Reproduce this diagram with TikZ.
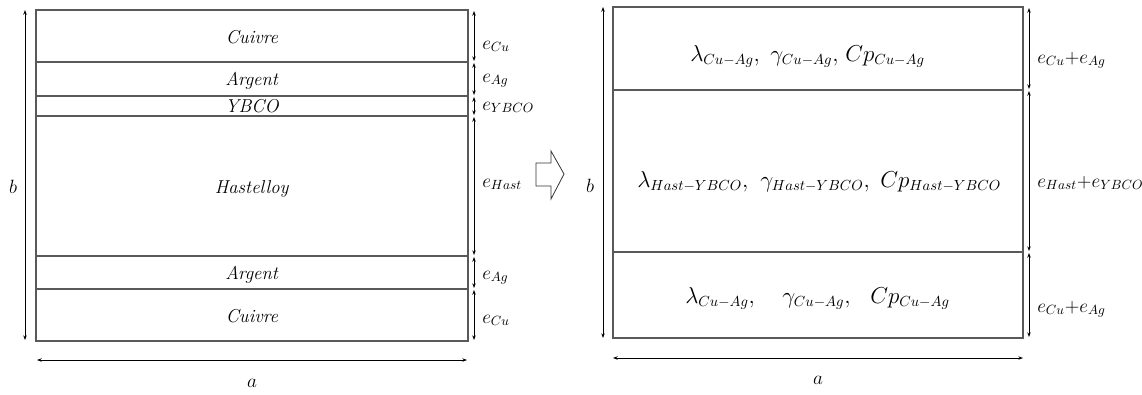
\documentclass[tikz,border=0pt]{standalone}
\usetikzlibrary{arrows.meta}
\begin{document}
\begin{tikzpicture}[x=0.75pt,y=-0.75pt,
    layer/.style={draw=black!65,line width=1.3pt},
    dim/.style={{Stealth[length=3.5pt,width=2.6pt]}-{Stealth[length=3.5pt,width=2.6pt]},line width=0.6pt},
    txt/.style={anchor=base,inner sep=0pt,font=\fontsize{14}{16}\selectfont},
    elbl/.style={anchor=base west,inner sep=0pt,font=\fontsize{14}{16}\selectfont},
    prop/.style={anchor=base west,inner sep=0pt,font=\fontsize{16}{19}\selectfont}]
    \useasboundingbox (0,0) rectangle (1142,394);

    % left: real stack of the tape
    \draw[layer] (36,10) rectangle (468,341);
    \draw[layer] (36,62) -- (468,62);
    \draw[layer] (36,96) -- (468,96);
    \draw[layer] (36,116) -- (468,116);
    \draw[layer] (36,256) -- (468,256);
    \draw[layer] (36,289) -- (468,289);

    \node[txt] (cu1) at (252,43) {\textit{Cuivre}};
    \node[txt] (ag1) at (252,85) {\textit{Argent}};
    \node[txt] (ybco) at (252,112) {\textit{YBCO}};
    \node[txt] (hast) at (252,193) {\textit{Hastelloy}};
    \node[txt] (ag2) at (252,279) {\textit{Argent}};
    \node[txt] (cu2) at (252,322) {\textit{Cuivre}};

    \draw[dim] (474,11) -- (474,61);
    \draw[dim] (474,63) -- (474,95);
    \draw[dim] (474,97) -- (474,115);
    \draw[dim] (474,117) -- (474,255);
    \draw[dim] (474,257) -- (474,288);
    \draw[dim] (474,290) -- (474,340);
    \node[elbl] (ecu1) at (482,49) {$e_{Cu}$};
    \node[elbl] (eag1) at (482,82) {$e_{Ag}$};
    \node[elbl] (eybco) at (482,110) {$e_{YBCO}$};
    \node[elbl] (ehast) at (482,187) {$e_{Hast}$};
    \node[elbl] (eag2) at (482,279) {$e_{Ag}$};
    \node[elbl] (ecu2) at (482,323) {$e_{Cu}$};

    \draw[dim] (25,10) -- (25,340);
    \node[txt] (bl) at (13,193) {$b$};
    \draw[dim] (37,360) -- (467,360);
    \node[txt] (al) at (252,387) {$a$};

    % equivalent model
    \draw[black!80,line width=0.6pt] (536,163) -- (551,163) -- (551,151) -- (564,174)
        -- (551,199) -- (551,186) -- (536,186) -- cycle;

    \draw[layer] (613,7) rectangle (1023,338);
    \draw[layer] (613,90) -- (1023,90);
    \draw[layer] (613,252) -- (1023,252);

    \node[prop] (lam1) at (690,61) {$\lambda_{Cu-Ag},$};
    \node[prop] (gam1) at (770,61) {$\gamma_{Cu-Ag},$};
    \node[prop] (cp1) at (845,61) {$Cp_{Cu-Ag}$};
    \node[prop] (lam2) at (637,187) {$\lambda_{Hast-YBCO},$};
    \node[prop] (gam2) at (760,187) {$\gamma_{Hast-YBCO},$};
    \node[prop] (cp2) at (880,187) {$Cp_{Hast-YBCO}$};
    \node[prop] (lam3) at (685,303) {$\lambda_{Cu-Ag},$};
    \node[prop] (gam3) at (782,303) {$\gamma_{Cu-Ag},$};
    \node[prop] (cp3) at (870,303) {$Cp_{Cu-Ag}$};

    \draw[dim] (603,7) -- (603,338);
    \node[txt] (br) at (590,192) {$b$};
    \draw[dim] (1029,8) -- (1029,89);
    \draw[dim] (1029,91) -- (1029,251);
    \draw[dim] (1029,253) -- (1029,337);
    \node[elbl] (ecuag1) at (1037,63) {$e_{Cu}{+}e_{Ag}$};
    \node[elbl] (ehy) at (1037,187) {$e_{Hast}{+}e_{YBCO}$};
    \node[elbl] (ecuag2) at (1037,312) {$e_{Cu}{+}e_{Ag}$};

    \draw[dim] (613,358) -- (1023,358);
    \node[txt] (ar) at (818,384) {$a$};
\end{tikzpicture}
\end{document}
